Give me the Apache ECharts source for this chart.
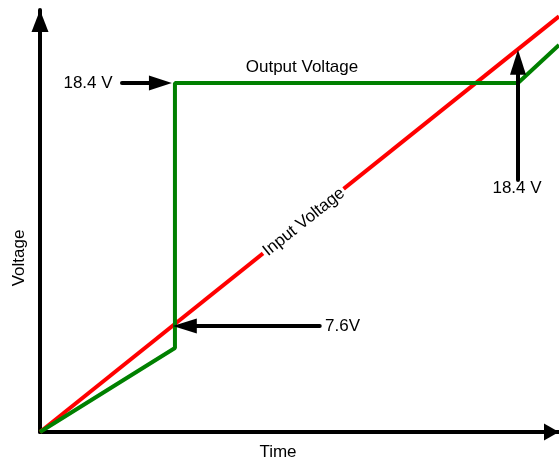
<!DOCTYPE html>
<html>
<head>
<meta charset="utf-8">
<script src="https://cdn.jsdelivr.net/npm/echarts@6/dist/echarts.min.js"></script>
<style>
html,body{margin:0;padding:0;background:#fff;}
#chart{width:559px;height:460px;}
</style>
</head>
<body>
<div id="chart"></div>
<script>
// Schematic data (arbitrary units: time 0..100, voltage 0..100)
var inputVoltage = [[0, 0], [100, 98.5]];
var outputVoltage = [[0, 0], [26, 19.9], [26, 82.7], [92.1, 82.7], [100, 91.7]];
// annotation arrows: [start, arrow-head center]
var arrowLeft184 = [[15.8, 82.7], [23.2, 82.7]];
var arrowRight184 = [[92.1, 59.7], [92.1, 87.6]];
var arrow76 = [[53.9, 25.1], [27.9, 25.1]];
var labels = {
  left184: '18.4 V', right184: '18.4 V', v76: '7.6V',
  output: 'Output Voltage', input: 'Input Voltage', xName: 'Time', yName: 'Voltage'
};

var FONT = '17px "Liberation Sans", Arial, sans-serif';
var chart = echarts.init(document.getElementById('chart'));

function arrowLine(pts, w, h) {
  return {
    silent: true,
    symbol: ['none', 'triangle'],
    symbolSize: [w, h],
    label: { show: false },
    lineStyle: { color: '#000', width: 4, type: 'solid', cap: 'round' },
    itemStyle: { color: '#000' },
    emphasis: { disabled: true },
    animation: false,
    data: [[{ coord: pts[0] }, { coord: pts[1] }]]
  };
}

chart.setOption({
  animation: false,
  grid: { left: 40, right: 0, top: 10, bottom: 28 },
  xAxis: {
    type: 'value', min: 0, max: 100,
    axisLine: { show: true, onZero: false, symbol: ['none', 'triangle'], symbolSize: [17, 15], symbolOffset: [0, -7.5],
      lineStyle: { color: '#000', width: 4 } },
    axisTick: { show: false }, axisLabel: { show: false }, splitLine: { show: false }
  },
  yAxis: {
    type: 'value', min: 0, max: 100,
    axisLine: { show: true, onZero: false, symbol: ['none', 'triangle'], symbolSize: [17, 22], symbolOffset: [0, -11],
      lineStyle: { color: '#000', width: 4 } },
    axisTick: { show: false }, axisLabel: { show: false }, splitLine: { show: false }
  },
  series: [
    {
      type: 'line', data: inputVoltage, symbol: 'none', clip: false,
      lineStyle: { color: '#ff0000', width: 4 }, z: 2,
      markLine: arrowLine(arrow76, 15, 24)
    },
    {
      type: 'line', data: outputVoltage, symbol: 'none', clip: false,
      lineStyle: { color: '#008000', width: 4 }, z: 3,
      markLine: arrowLine(arrowLeft184, 15, 23)
    },
    {
      type: 'line', data: [], symbol: 'none',
      markLine: arrowLine(arrowRight184, 16, 25)
    }
  ]
});

chart.setOption({
  graphic: [
    { type: 'text', x: 88, y: 83, style: { text: labels.left184, font: FONT, fill: '#000', align: 'center', verticalAlign: 'middle' } },
    { type: 'text', x: 517, y: 188, style: { text: labels.right184, font: FONT, fill: '#000', align: 'center', verticalAlign: 'middle' } },
    { type: 'text', x: 325, y: 326, style: { text: labels.v76, font: FONT, fill: '#000', align: 'left', verticalAlign: 'middle' } },
    { type: 'text', x: 302, y: 67, style: { text: labels.output, font: FONT, fill: '#000', align: 'center', verticalAlign: 'middle' } },
    { type: 'text', x: 304, y: 222, rotation: 38.5 * Math.PI / 180, z: 10,
      style: { text: labels.input, font: FONT, fill: '#000', align: 'center', verticalAlign: 'middle', backgroundColor: '#fff', padding: [0, 2] } },
    { type: 'text', x: 278, y: 452, style: { text: labels.xName, font: FONT, fill: '#000', align: 'center', verticalAlign: 'middle' } },
    { type: 'text', x: 19, y: 258, rotation: Math.PI / 2, style: { text: labels.yName, font: FONT, fill: '#000', align: 'center', verticalAlign: 'middle' } }
  ]
});
</script>
</body>
</html>
